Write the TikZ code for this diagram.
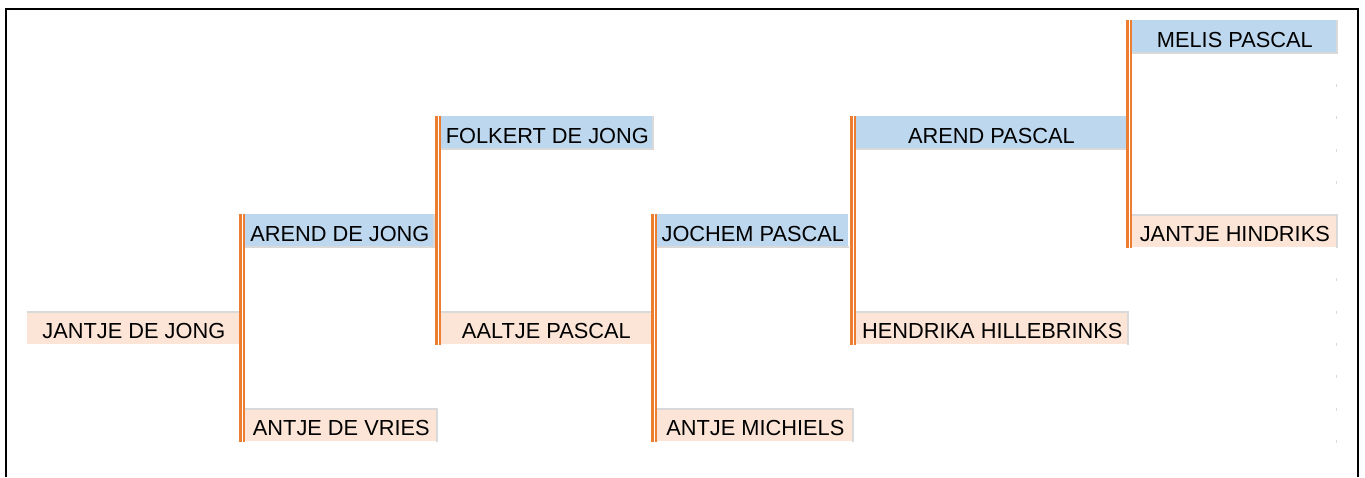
\documentclass[tikz,border=0pt]{standalone}
\usepackage{fontspec}
\setmainfont{Liberation Sans}
\usetikzlibrary{calc}

\definecolor{manblue}{HTML}{BDD7EE}
\definecolor{womanpeach}{HTML}{FCE4D6}
\definecolor{lineorange}{HTML}{ED7D31}
\definecolor{cellgray}{HTML}{D9D9D9}

\begin{document}
\begin{tikzpicture}[x=0.02cm,y=-0.02cm,
  person/.style={anchor=north west,minimum height=0.66cm,inner sep=0pt,text height=0.42cm,text depth=0pt,font=\fontsize{12.4pt}{14pt}\selectfont},
  man/.style={person,fill=manblue},
  woman/.style={person,fill=womanpeach},
  parents/.style={draw=lineorange,double=white,line width=0.05cm,double distance=0.02cm},
  cellline/.style={draw=cellgray,line width=0.04cm}]
\useasboundingbox (0,0) rectangle (1365,477);
\draw[line width=0.04cm] (6,477) -- (6,9) -- (1358,9) -- (1358,477);
% persons
\node[woman,minimum width=4.26cm] (jantje) at (27,311) {JANTJE DE JONG};
\node[man,minimum width=3.78cm] (arenddj) at (245,214) {AREND DE JONG};
\node[woman,minimum width=3.84cm] (antjedv) at (245,408) {ANTJE DE VRIES};
\node[man,minimum width=4.24cm] (folkert) at (441,116) {FOLKERT DE JONG};
\node[woman,minimum width=4.20cm] (aaltje) at (441,311) {AALTJE PASCAL};
\node[man,minimum width=3.82cm] (jochem) at (657,214) {JOCHEM PASCAL};
\node[woman,minimum width=3.92cm] (antjem) at (657,408) {ANTJE MICHIELS};
\node[man,minimum width=5.40cm] (arendp) at (856,116) {AREND PASCAL};
\node[woman,minimum width=5.44cm] (hendrika) at (856,311) {HENDRIKA HILLEBRINKS};
\node[man,minimum width=4.10cm] (melis) at (1132,20) {MELIS PASCAL};
\node[woman,minimum width=4.10cm] (jantjeh) at (1132,214) {JANTJE HINDRIKS};
% cell borders
\draw[cellline] ($(jantje.north west)+(0,1)$) -- ($(jantje.north east)+(0,1)$);
\draw[cellline] ($(arenddj.south west)+(0,-1)$) -- ($(arenddj.south east)+(-1,-1)$) -- ($(arenddj.north east)+(-1,0)$);
\draw[cellline] ($(antjedv.north west)+(0,1)$) -- ($(antjedv.north east)+(-1,1)$) -- ($(antjedv.south east)+(-1,0)$);
\draw[cellline] ($(folkert.south west)+(0,-1)$) -- ($(folkert.south east)+(-1,-1)$) -- ($(folkert.north east)+(-1,0)$);
\draw[cellline] ($(aaltje.north west)+(0,1)$) -- ($(aaltje.north east)+(0,1)$);
\draw[cellline] ($(jochem.south west)+(0,-1)$) -- ($(jochem.south east)+(0,-1)$);
\draw[cellline] ($(antjem.north west)+(0,1)$) -- ($(antjem.north east)+(-1,1)$) -- ($(antjem.south east)+(-1,0)$);
\draw[cellline] ($(arendp.south west)+(0,-1)$) -- ($(arendp.south east)+(0,-1)$);
\draw[cellline] ($(hendrika.north west)+(0,1)$) -- ($(hendrika.north east)+(-1,1)$) -- ($(hendrika.south east)+(-1,0)$);
\draw[cellline] ($(melis.south west)+(0,-1)$) -- ($(melis.south east)+(-1,-1)$) -- ($(melis.north east)+(-1,0)$);
\draw[cellline] ($(jantjeh.north west)+(0,1)$) -- ($(jantjeh.north east)+(-1,1)$) -- ($(jantjeh.south east)+(-1,0)$);
% parent lines
\draw[parents] ($(arenddj.north west)+(-3,0)$) -- ($(antjedv.south west)+(-3,0)$);
\draw[parents] ($(folkert.north west)+(-3,0)$) -- ($(aaltje.south west)+(-3,0)$);
\draw[parents] ($(jochem.north west)+(-3,0)$) -- ($(antjem.south west)+(-3,0)$);
\draw[parents] ($(arendp.north west)+(-3,0)$) -- ($(hendrika.south west)+(-3,0)$);
\draw[parents] ($(melis.north west)+(-3,0)$) -- ($(jantjeh.south west)+(-3,0)$);
% grid marks
\draw[cellline,line width=0.02cm] (1336.5,83.5) -- (1336.5,86.5) (1336.5,115.5) -- (1336.5,118.5)
  (1336.5,148.5) -- (1336.5,151.5) (1336.5,180.5) -- (1336.5,183.5)
  (1336.5,277.5) -- (1336.5,280.5) (1336.5,310.5) -- (1336.5,313.5)
  (1336.5,342.5) -- (1336.5,345.5) (1336.5,374.5) -- (1336.5,377.5)
  (1336.5,407.5) -- (1336.5,410.5) (1336.5,439.5) -- (1336.5,442.5);
\end{tikzpicture}
\end{document}
